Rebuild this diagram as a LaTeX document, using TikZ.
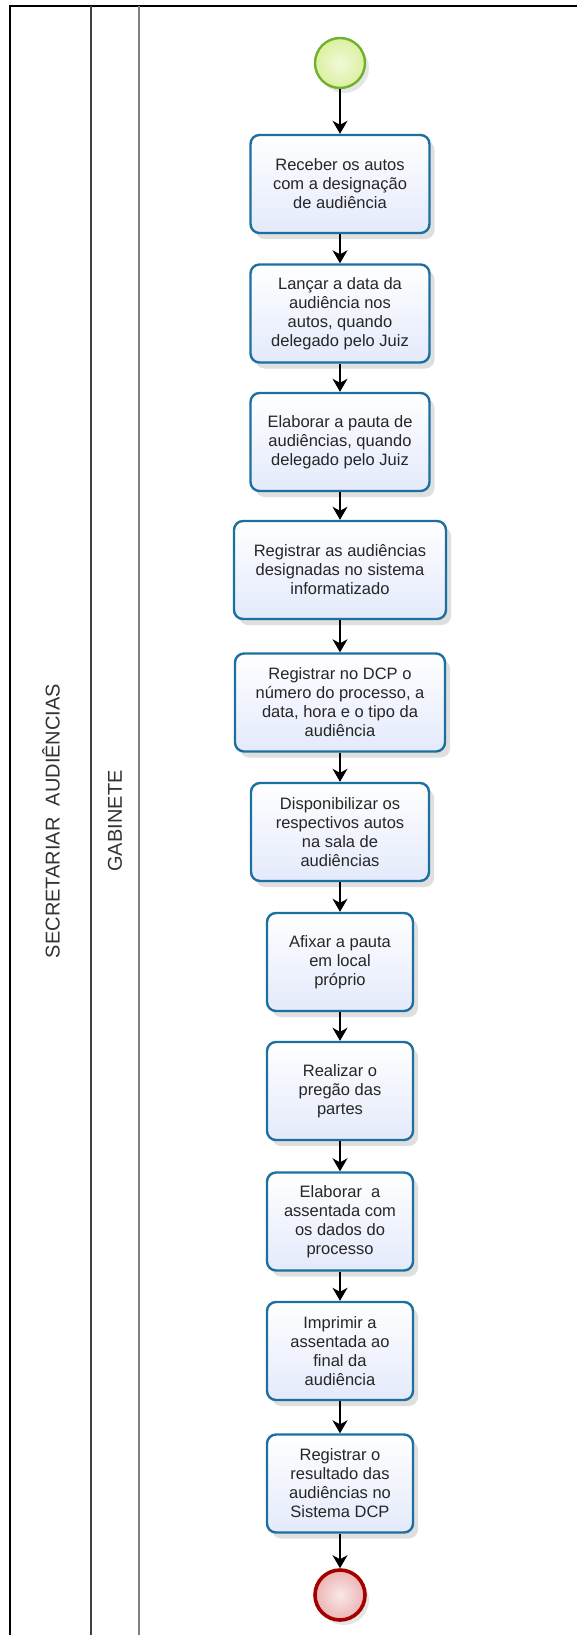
\documentclass[tikz,border=0pt]{standalone}
\usepackage{fontspec}
\setmainfont{Liberation Sans}
\usetikzlibrary{arrows.meta}
\usetikzlibrary{shadows}

\definecolor{taskblue}{RGB}{28,112,160}
\definecolor{taskfill}{RGB}{228,234,252}
\definecolor{startgreen}{RGB}{110,178,40}
\definecolor{startfill}{RGB}{220,240,160}
\definecolor{endred}{RGB}{165,0,0}
\definecolor{endfill}{RGB}{236,180,180}

\begin{document}
\begin{tikzpicture}[x=1pt, y=-1pt,
    task/.style={rectangle, rounded corners=9pt, draw=taskblue, line width=2.4pt,
        top color=white, bottom color=taskfill,
        drop shadow={shadow xshift=5pt, shadow yshift=-6pt, opacity=0.25},
        minimum width=179pt, minimum height=98pt, inner sep=0pt, align=center,
        text=black!85, font=\fontsize{16.5pt}{19pt}\selectfont},
    startev/.style={circle, draw=startgreen, line width=2.4pt, minimum size=50pt,
        inner sep=0pt, inner color=white!60!startfill, outer color=startfill,
        drop shadow={shadow xshift=4pt, shadow yshift=-5pt, opacity=0.2}},
    endev/.style={circle, draw=endred, line width=3.6pt, minimum size=50pt,
        inner sep=0pt, inner color=white!70!endfill, outer color=endfill,
        drop shadow={shadow xshift=4pt, shadow yshift=-5pt, opacity=0.2}},
    flow/.style={-{Stealth[length=13pt, width=15pt, inset=4pt]}, line width=1.4pt, black},
    lanetext/.style={rotate=90, text=black!80, font=\fontsize{20pt}{24pt}\selectfont}]

    \useasboundingbox (0,0) rectangle (577,1635);

    % lanes
    \draw[line width=2pt] (10,1635) -- (10,6) -- (577,6);
    \draw[line width=1.8pt, black!75] (91,6) -- (91,1635);
    \draw[line width=1.6pt, black!50] (139,6) -- (139,1635);
    \node[lanetext] (pool) at (51,821) {SECRETARIAR~ AUDIÊNCIAS};
    \node[lanetext] (lane) at (115,821) {GABINETE};

    % events
    \node[startev] (start) at (340,63) {};
    \node[endev] (end) at (340,1595) {};

    % tasks
    \node[task] (t1) at (340,184) {Receber os autos\\com a designação\\de audiência};
    \node[task] (t2) at (340,313.5) {Lançar a data da\\audiência nos\\autos, quando\\delegado pelo Juiz};
    \node[task] (t3) at (340,442) {Elaborar a pauta de\\audiências, quando\\delegado pelo Juiz};
    \node[task, minimum width=212pt] (t4) at (340,570) {Registrar as audiências\\designadas no sistema\\informatizado};
    \node[task, minimum width=210pt] (t5) at (340,702.5) {Registrar no DCP o\\número do processo, a\\data, hora e o tipo da\\audiência};
    \node[task, minimum width=178pt] (t6) at (340,832) {Disponibilizar os\\respectivos autos\\na sala de\\audiências};
    \node[task, minimum width=146pt] (t7) at (340,962) {Afixar a pauta\\em local\\próprio};
    \node[task, minimum width=146pt] (t8) at (340,1091) {Realizar o\\pregão das\\partes};
    \node[task, minimum width=146pt] (t9) at (340,1221.5) {Elaborar~ a\\assentada com\\os dados do\\processo};
    \node[task, minimum width=146pt] (t10) at (340,1351) {Imprimir a\\assentada ao\\final da\\audiência};
    \node[task, minimum width=146pt] (t11) at (340,1483.5) {Registrar o\\resultado das\\audiências no\\Sistema DCP};

    % sequence flows
    \foreach \a/\b in {start/t1, t1/t2, t2/t3, t3/t4, t4/t5, t5/t6, t6/t7, t7/t8, t8/t9, t9/t10, t10/t11, t11/end} {
        \draw[flow] (\a) -- (\b);
    }

\end{tikzpicture}
\end{document}
